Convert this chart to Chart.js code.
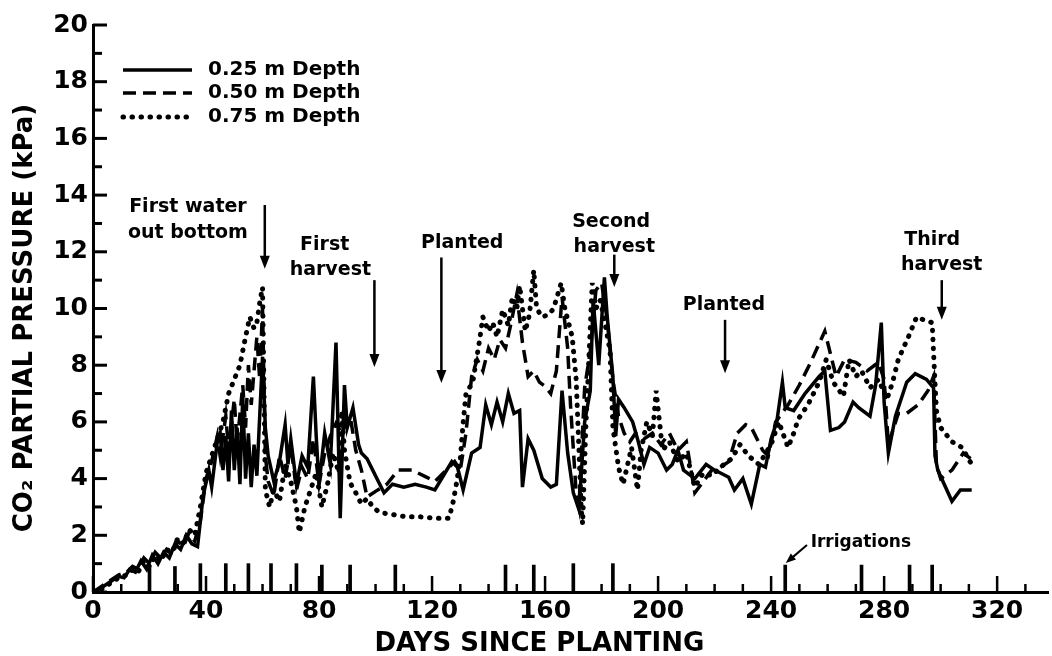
<!DOCTYPE html>
<html>
<head>
<meta charset="utf-8">
<script src="https://cdn.jsdelivr.net/npm/chart.js@4.4.1/dist/chart.umd.min.js"></script>
<style>
  html, body { margin: 0; padding: 0; background: #fff; }
  #wrap { width: 1052px; height: 656px; }
</style>
</head>
<body>
<div id="wrap"><canvas id="co2Chart" width="1052" height="656"></canvas></div>
<script>
// CO2 partial pressure (kPa), by depth
var depth25Days = [0,3,6,9,11,13,15,17,19,21,23,25,27,29,31,33,35,37,39,41,42,44,45,46,47,48,49,50,51,52,53,54,55,56,57,58,60,61,62,64,66,68,69,70,72,74,76,78,79,80,82,84,86,87.5,89,90,92,94,95,97,99,101,103,106,110,114,118,121,124,127,129,131,134,137,139,141,143,145,147,149,151,152,154,156,159,162,164,166,168,170,172,174,176,177,179,181,182,184,185,186,188,191,193,195,197,200,203,205,207,209,213,217,220,225,227,230,233,236,238,240,242,244,245,248,252,257,259,261,264,266,269,271,275,277,279,280,281.5,284,288,291,295,297.5,298,299,304,307,311];
var depth25Kpa = [0,0.15,0.35,0.55,0.5,0.8,0.7,1.1,0.8,1.3,1.0,1.4,1.2,1.7,1.5,2.0,1.7,1.6,3.4,4.3,3.7,5.3,5.6,4.3,5.5,3.9,6.4,4.3,5.8,3.8,6.9,4.0,5.6,3.7,5.2,4.1,8.3,5.8,4.8,3.9,4.6,5.9,4.5,5.4,3.8,4.8,4.4,7.6,5.5,3.8,5.6,4.5,8.8,2.6,7.3,5.8,6.5,5.2,4.9,4.7,4.3,3.9,3.5,3.8,3.7,3.8,3.7,3.6,4.1,4.6,4.4,3.6,4.9,5.1,6.6,5.9,6.7,6.0,7.0,6.3,6.4,3.7,5.4,5.0,4.0,3.7,3.8,7.1,4.9,3.5,2.9,6.0,7.1,10.3,8.0,11.1,9.7,7.6,5.5,6.8,6.5,6.0,5.3,4.5,5.1,4.9,4.3,4.5,5.0,4.3,4.0,4.5,4.3,4.05,3.6,4.0,3.1,4.5,4.4,5.4,6.0,7.4,6.5,6.4,7.0,7.6,7.8,5.7,5.8,6.0,6.7,6.5,6.2,7.3,9.5,6.7,4.9,6.2,7.4,7.7,7.5,7.2,4.8,4.3,3.2,3.6,3.6];

var depth50Days = [0,3,6,9,12,14,16,18,20,22,24,26,28,30,32,34,36,38,40,42,44,45,47,48,50,51,53,54,55,56,58,59,60,61,62,64,66,68,70,72,74,76,78,80,82,84,86,88,91,93,95,97,100,104,108,113,118,121,125,128,130,132,134,136,138,140,142,144,146,148,150,152,154,156,158,160,162,164,166,168,169,171,172,174,176,178,180,182,184,186,188,190,192,195,198,201,204,207,210,213,216,219,222,225,228,231,233,237,239,241.6,246,250,254,259,263,266,270,274,278,280,281.5,285,288,292,295.5,297.5,298.5,300,304,306,308,312];
var depth50Kpa = [0,0.2,0.4,0.6,0.7,0.9,0.8,1.2,1.0,1.4,1.2,1.5,1.3,1.8,1.6,2.1,1.8,2.5,4.0,4.6,5.5,4.8,6.2,5.0,6.8,5.2,7.3,5.8,8.0,6.6,9.0,7.5,10.0,4.8,3.9,3.4,4.8,4.0,5.2,3.6,4.4,4.0,5.4,3.8,4.9,5.5,5.95,5.6,6.2,5.0,4.3,3.35,3.55,3.8,4.3,4.3,4.05,3.9,4.3,4.6,4.3,5.6,7.6,8.2,7.8,8.6,8.2,8.9,8.6,9.5,10.5,8.8,7.6,7.8,7.4,7.25,7.0,7.8,10.4,8.6,6.6,3.5,3.0,7.2,8.5,10.65,10.9,9.6,7.5,6.2,5.6,5.3,5.6,5.4,5.6,5.2,5.6,5.0,5.3,3.5,3.9,4.3,4.4,4.6,5.6,5.9,5.8,5.0,4.8,6.0,6.6,7.3,8.1,9.2,7.6,8.2,8.1,7.8,8.1,7.5,5.2,6.3,6.3,6.6,7.1,7.6,4.5,4.0,4.3,4.6,4.9,4.6];

var depth75Days = [0,3,6,9,12,14,16,18,20,22,24,26,28,30,32,34,36,38,40,42,44,46,48,50,52,54,55.5,57,58,59,60,61,62.5,64,66,68,70,72,73,75,77,79,81,83,85,87,88,89,91,93,95,97,99,101.5,105,111,116,121,126,127.5,128.6,130,131,132,134.4,136.7,138,140,141.5,143,145,147,148.4,150,151,153,154.5,156,157,159,161.5,163,165.7,167,169.6,171,172,172.8,173.3,174.5,176.7,178,179.5,181,183,184,186,187.6,189,190.6,192.7,194,196,198,199.3,201.6,204,207,210,213,216,219,222,226,229,232,235.7,240,242.7,246,248,249.6,253,257,259.5,262,265.6,267.6,270,272,275,278,281,283,285,288.6,291.5,294,297,297.8,298.5,300,304,307.5,311];
var depth75Kpa = [0,0.1,0.3,0.5,0.6,0.8,0.7,1.1,0.9,1.3,1.1,1.5,1.4,1.9,1.7,2.2,2.0,3.0,4.2,4.8,5.4,6.0,7.0,7.5,8.0,9.0,9.7,9.3,9.5,10.2,10.75,3.6,3.0,3.6,3.2,4.5,3.9,3.0,2.1,3.0,3.6,4.2,3.0,3.8,4.9,4.2,6.4,5.0,3.85,3.5,3.1,3.3,3.0,2.8,2.75,2.65,2.65,2.6,2.6,3.2,3.8,4.7,5.95,7.0,7.4,8.8,9.7,9.2,9.5,9.0,9.95,9.4,10.4,10.0,10.8,9.2,9.8,11.35,10.0,9.7,9.8,10.0,10.9,10.0,9.0,7.5,5.0,2.9,2.4,6.0,10.9,10.0,10.3,9.6,8.5,5.8,4.4,3.8,4.4,5.1,3.6,5.0,6.0,5.5,7.1,5.0,5.3,4.6,4.9,3.7,4.2,4.1,4.4,4.7,5.2,4.8,4.5,5.2,6.0,5.1,5.6,6.1,6.6,7.4,8.2,7.4,6.9,8.2,7.6,7.8,7.2,7.5,6.8,7.4,8.2,9.0,9.7,9.6,9.5,7.8,6.4,5.8,5.3,5.1,4.5];

var seriesLabels = ["0.25 m Depth", "0.50 m Depth", "0.75 m Depth"];

// irrigation marks along the x axis
var irrigationDays = [20,29,38,47,55,63,72,81,91,107,146,156,170,184,245,272,289,297];
var irrigationKpa = [0.95,0.9,1.0,1.0,1.0,1.0,1.0,0.95,0.95,0.95,0.95,0.95,1.0,1.0,0.95,0.95,0.95,0.95];

// axis ticks
var xTickValues = [0,40,80,120,160,200,240,280,320];
var xMinorTicks = [10,20,30,50,60,70,90,100,110,130,140,150,170,180,190,210,220,230,250,260,270,290,300,310,330];
var yTickValues = [0,2,4,6,8,10,12,14,16,18,20];
var yMinorTicks = [1,3,5,7,9,11,13,15,17,19];

// event notes (text at day/kPa) and their arrows
var noteTexts = ["First water", "out bottom", "First", "harvest", "Planted", "Second", "harvest", "Planted", "Third", "harvest"];
var noteDays = [33.6, 33.6, 82, 84, 130.7, 183.4, 184.5, 223.3, 297, 300.4];
var noteKpa = [13.58, 12.66, 12.24, 11.36, 12.3, 13.05, 12.17, 10.12, 12.4, 11.53];
var arrowDays = [60.8, 99.6, 123.3, 184.5, 223.7, 300.4];
var arrowFromKpa = [13.65, 11.0, 11.8, 11.9, 9.6, 11.0];
var arrowToKpa = [11.4, 7.94, 7.37, 10.76, 7.72, 9.6];

function pairs(days, vals) {
    return days.map(function (d, i) { return { x: d, y: vals[i] }; });
}

var fontFamily = '"DejaVu Sans", sans-serif';

function drawArrow(ctx, x1, y1, x2, y2, len, half, width) {
    var a = Math.atan2(y2 - y1, x2 - x1);
    ctx.lineWidth = width;
    ctx.setLineDash([]);
    ctx.beginPath();
    ctx.moveTo(x1, y1);
    ctx.lineTo(x2 - len * 0.8 * Math.cos(a), y2 - len * 0.8 * Math.sin(a));
    ctx.stroke();
    ctx.beginPath();
    ctx.moveTo(x2, y2);
    ctx.lineTo(x2 - len * Math.cos(a) + half * Math.sin(a), y2 - len * Math.sin(a) - half * Math.cos(a));
    ctx.lineTo(x2 - len * Math.cos(a) - half * Math.sin(a), y2 - len * Math.sin(a) + half * Math.cos(a));
    ctx.closePath();
    ctx.fill();
}

var notesPlugin = {
    id: 'notes',
    afterDraw: function (chart) {
        var ctx = chart.ctx;
        var xs = chart.scales.x;
        var ys = chart.scales.y;
        var area = chart.chartArea;
        ctx.save();
        ctx.fillStyle = '#000';
        ctx.strokeStyle = '#000';
        ctx.lineCap = 'butt';

        // inward tick marks
        ctx.lineWidth = 3;
        yTickValues.forEach(function (v) {
            var p = ys.getPixelForValue(v);
            ctx.beginPath(); ctx.moveTo(area.left, p); ctx.lineTo(area.left + 14, p); ctx.stroke();
        });
        yMinorTicks.forEach(function (v) {
            var p = ys.getPixelForValue(v);
            ctx.beginPath(); ctx.moveTo(area.left, p); ctx.lineTo(area.left + 9, p); ctx.stroke();
        });
        ctx.lineWidth = 2.5;
        xTickValues.forEach(function (v) {
            var p = xs.getPixelForValue(v);
            ctx.beginPath(); ctx.moveTo(p, area.bottom); ctx.lineTo(p, area.bottom - 16); ctx.stroke();
        });
        xMinorTicks.forEach(function (v) {
            var p = xs.getPixelForValue(v);
            ctx.beginPath(); ctx.moveTo(p, area.bottom); ctx.lineTo(p, area.bottom - 8); ctx.stroke();
        });

        // legend
        var rows = [area.top + 45, area.top + 68, area.top + 92];
        ctx.font = 'bold 20px ' + fontFamily;
        ctx.textAlign = 'left';
        ctx.textBaseline = 'middle';
        for (var i = 0; i < 3; i++) {
            var ds = chart.data.datasets[i];
            ctx.save();
            ctx.lineWidth = ds.borderWidth;
            ctx.setLineDash(ds.borderDash || []);
            ctx.lineCap = ds.borderCapStyle || 'butt';
            ctx.beginPath();
            ctx.moveTo(area.left + 30, rows[i]);
            ctx.lineTo(area.left + 99, rows[i]);
            ctx.stroke();
            ctx.restore();
            ctx.fillText(seriesLabels[i], area.left + 115, rows[i]);
        }

        // notes
        ctx.font = 'bold 19px ' + fontFamily;
        ctx.textAlign = 'center';
        for (var j = 0; j < noteTexts.length; j++) {
            ctx.fillText(noteTexts[j], xs.getPixelForValue(noteDays[j]), ys.getPixelForValue(noteKpa[j]));
        }
        for (var k = 0; k < arrowDays.length; k++) {
            var ax = xs.getPixelForValue(arrowDays[k]);
            drawArrow(ctx, ax, ys.getPixelForValue(arrowFromKpa[k]), ax, ys.getPixelForValue(arrowToKpa[k]), 13, 5, 2.5);
        }
        ctx.font = 'bold 17px ' + fontFamily;
        ctx.textAlign = 'left';
        ctx.fillText('Irrigations', xs.getPixelForValue(254), ys.getPixelForValue(1.76));
        drawArrow(ctx, xs.getPixelForValue(252.7), ys.getPixelForValue(1.66),
            xs.getPixelForValue(245.2), ys.getPixelForValue(1.02), 10, 4, 2);

        // axis titles
        ctx.font = 'bold 26px ' + fontFamily;
        ctx.textAlign = 'center';
        ctx.fillText('DAYS SINCE PLANTING', xs.getPixelForValue(158), area.bottom + 52);
        ctx.save();
        ctx.translate(25, area.top + 293);
        ctx.rotate(-Math.PI / 2);
        ctx.fillText('CO\u2082 PARTIAL PRESSURE (kPa)', 0, 0);
        ctx.restore();

        ctx.restore();
    }
};

var tickFont = { family: fontFamily, size: 25, weight: 'bold' };

var co2Chart = new Chart(document.getElementById('co2Chart'), {
    type: 'line',
    data: {
        datasets: [
            {
                label: seriesLabels[0],
                data: pairs(depth25Days, depth25Kpa),
                borderColor: '#000',
                borderWidth: 3.5,
                pointRadius: 0,
                tension: 0,
                fill: false
            },
            {
                label: seriesLabels[1],
                data: pairs(depth50Days, depth50Kpa),
                borderColor: '#000',
                borderWidth: 3.5,
                borderDash: [13, 7],
                pointRadius: 0,
                tension: 0,
                fill: false
            },
            {
                label: seriesLabels[2],
                data: pairs(depth75Days, depth75Kpa),
                borderColor: '#000',
                borderWidth: 5,
                borderDash: [0.5, 8.5],
                borderCapStyle: 'round',
                pointRadius: 0,
                tension: 0,
                fill: false
            },
            {
                type: 'bar',
                label: 'Irrigations',
                data: pairs(irrigationDays, irrigationKpa),
                backgroundColor: '#000',
                borderWidth: 0,
                barThickness: 3
            }
        ]
    },
    options: {
        responsive: false,
        animation: false,
        devicePixelRatio: 1,
        events: [],
        layout: { padding: { top: 25, right: 4, bottom: 0, left: 0 } },
        plugins: {
            legend: { display: false },
            tooltip: { enabled: false }
        },
        scales: {
            x: {
                type: 'linear',
                min: 0,
                max: 338,
                offset: false,
                grid: { display: true, offset: false, drawOnChartArea: false, drawTicks: false },
                border: { display: true, color: '#000', width: 3 },
                ticks: { color: '#000', font: tickFont, padding: 4, maxRotation: 0, autoSkip: false },
                afterBuildTicks: function (s) { s.ticks = xTickValues.map(function (v) { return { value: v }; }); },
                afterFit: function (s) { s.height = 64; }
            },
            y: {
                type: 'linear',
                min: 0,
                max: 20,
                grid: { display: true, drawOnChartArea: false, drawTicks: false },
                border: { display: true, color: '#000', width: 3 },
                ticks: { color: '#000', font: tickFont, padding: 5, autoSkip: false },
                afterBuildTicks: function (s) { s.ticks = yTickValues.map(function (v) { return { value: v }; }); },
                afterFit: function (s) { s.width = 93; }
            }
        }
    },
    plugins: [notesPlugin]
});
</script>
</body>
</html>
